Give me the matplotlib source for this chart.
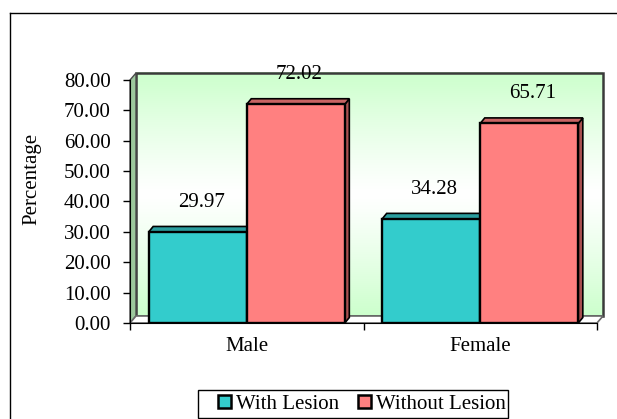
import numpy as np
import matplotlib
matplotlib.use("Agg")
import matplotlib.pyplot as plt
from matplotlib.patches import Polygon, Patch, Rectangle
from matplotlib.lines import Line2D

# ---- data ----
categories = ["Male", "Female"]
with_lesion = [29.97, 34.28]
without_lesion = [72.02, 65.71]
series_names = ["With Lesion", "Without Lesion"]
y_ticks = [0, 10, 20, 30, 40, 50, 60, 70, 80]

plt.rcParams["font.family"] = ["Liberation Serif", "DejaVu Serif"]
FS = 15

W, H, DPI = 617, 419, 100
fig = plt.figure(figsize=(W / DPI, H / DPI), dpi=DPI)
fig.patch.set_facecolor("white")

# outer chart frame (left and top edges visible)
fig.add_artist(Line2D([10 / W, 10 / W], [0, 1 - 13 / H], color="black", lw=1.0,
                      transform=fig.transFigure))
fig.add_artist(Line2D([10 / W, 1], [1 - 13 / H, 1 - 13 / H], color="black", lw=1.0,
                      transform=fig.transFigure))

ax = fig.add_axes([130 / W, (H - 323) / H, 467 / W, 243 / H])
ax.patch.set_visible(False)
xmin, xmax = -0.5, len(categories) - 0.5
ymin, ymax = 0, 80
ax.set_xlim(xmin, xmax)
ax.set_ylim(ymin, ymax)

# pixel -> data conversion for the 3D depth offsets
ax_w_px = 467
ax_h_px = 243
def dxp(px):
    return px * (xmax - xmin) / ax_w_px
def dyp(px):
    return px * (ymax - ymin) / ax_h_px

# ---- back wall with vertical gradient ----
wdx, wdy = dxp(6), dyp(7)
t = np.linspace(0, 1, 256)
wgt = np.abs(2 * t - 1) ** 1.2
green = np.array([0.80, 1.0, 0.80])
white = np.array([1.0, 1.0, 1.0])
grad = white[None, :] * (1 - wgt[:, None]) + green[None, :] * wgt[:, None]
grad = np.repeat(grad[:, None, :], 2, axis=1)
ax.imshow(grad, origin="lower", aspect="auto", interpolation="bilinear",
          extent=[xmin + wdx, xmax + wdx, ymin + wdy, ymax + wdy],
          zorder=0, clip_on=False)
ax.set_xlim(xmin, xmax)
ax.set_ylim(ymin, ymax)
ax.add_patch(Polygon([[xmin + wdx, ymin + wdy], [xmax + wdx, ymin + wdy],
                      [xmax + wdx, ymax + wdy], [xmin + wdx, ymax + wdy]],
                     closed=True, fill=False, edgecolor="#3a3a3a", lw=1.8,
                     zorder=0.5, clip_on=False))
# left side wall
ax.add_patch(Polygon([[xmin, ymin], [xmin + wdx, ymin + wdy],
                      [xmin + wdx, ymax + wdy], [xmin, ymax]],
                     closed=True, facecolor="#9cc89c", edgecolor="#4a4a4a", lw=1.0,
                     zorder=0.6, clip_on=False))
# floor
ax.add_patch(Polygon([[xmin, ymin], [xmax, ymin], [xmax + wdx, ymin + wdy],
                      [xmin + wdx, ymin + wdy]],
                     closed=True, facecolor="white", edgecolor="#6a6a6a", lw=1.2,
                     zorder=0.7, clip_on=False))

# ---- 3D bars ----
bar_w = 0.42
bdx, bdy = dxp(4.5), dyp(5.5)
styles = [
    dict(front="#33CCCC", top="#2a9e9e", side="#248a8a"),
    dict(front="#FF8080", top="#c86464", side="#a85050"),
]
x = np.arange(len(categories))
offsets = [-bar_w / 2, bar_w / 2]
z = 2.0
for i in range(len(categories)):
    for s, vals in enumerate([with_lesion, without_lesion]):
        st = styles[s]
        xc = x[i] + offsets[s]
        h = vals[i]
        x0, x1 = xc - bar_w / 2, xc + bar_w / 2
        # right side face
        ax.add_patch(Polygon([[x1, 0], [x1 + bdx, bdy], [x1 + bdx, h + bdy], [x1, h]],
                             closed=True, facecolor=st["side"], edgecolor="black",
                             lw=1.2, zorder=z, clip_on=False))
        # top face
        ax.add_patch(Polygon([[x0, h], [x1, h], [x1 + bdx, h + bdy], [x0 + bdx, h + bdy]],
                             closed=True, facecolor=st["top"], edgecolor="black",
                             lw=1.2, zorder=z, clip_on=False))
        # front face
        ax.bar(xc, h, width=bar_w, color=st["front"], edgecolor="black",
               linewidth=1.7, zorder=z + 0.1)
        z += 0.2
        ax.annotate(f"{h:.2f}", xy=(xc + bdx / 2, h), xytext=(1, 21.5),
                    textcoords="offset points", ha="center", va="center",
                    fontsize=FS, zorder=10, annotation_clip=False)

# ---- axes ----
for side in ("top", "right"):
    ax.spines[side].set_visible(False)
ax.spines["left"].set_color("black")
ax.spines["bottom"].set_color("black")
ax.spines["left"].set_zorder(5)
ax.spines["bottom"].set_zorder(5)

ax.set_yticks(y_ticks)
ax.set_yticklabels([f"{v:.2f}" for v in y_ticks], fontsize=FS)
ax.tick_params(axis="y", direction="out", length=5, width=1, pad=9)

ax.set_xticks(np.arange(len(categories) + 1) - 0.5)
ax.set_xticklabels([])
ax.tick_params(axis="x", which="major", direction="out", length=5, width=1)
ax.set_xticks(x, minor=True)
ax.set_xticklabels(categories, minor=True, fontsize=FS)
ax.tick_params(axis="x", which="minor", length=0, pad=10)

fig.text(32 / W, 1 - 179 / H, "Percentage", rotation=90, ha="center", va="center",
         fontsize=FS)

# ---- legend (frame drawn separately, entries sit right of centre) ----
fig.add_artist(Rectangle((198 / W, 1 - 418 / H), 310 / W, 28 / H,
                         transform=fig.transFigure, facecolor="white",
                         edgecolor="black", lw=1.0, zorder=1))
handles = [Patch(facecolor=styles[k]["front"], edgecolor="black", linewidth=1.8)
           for k in range(2)]
leg = fig.legend(handles, series_names, loc="center",
                 bbox_to_anchor=(362 / W, 1 - 404 / H), ncol=2, fontsize=FS,
                 frameon=False, handlelength=0.6, handleheight=0.6,
                 handletextpad=0.25, columnspacing=0.9, borderpad=0.0,
                 borderaxespad=0)
leg.set_zorder(2)

fig.savefig("out.png", dpi=DPI, facecolor="white")
